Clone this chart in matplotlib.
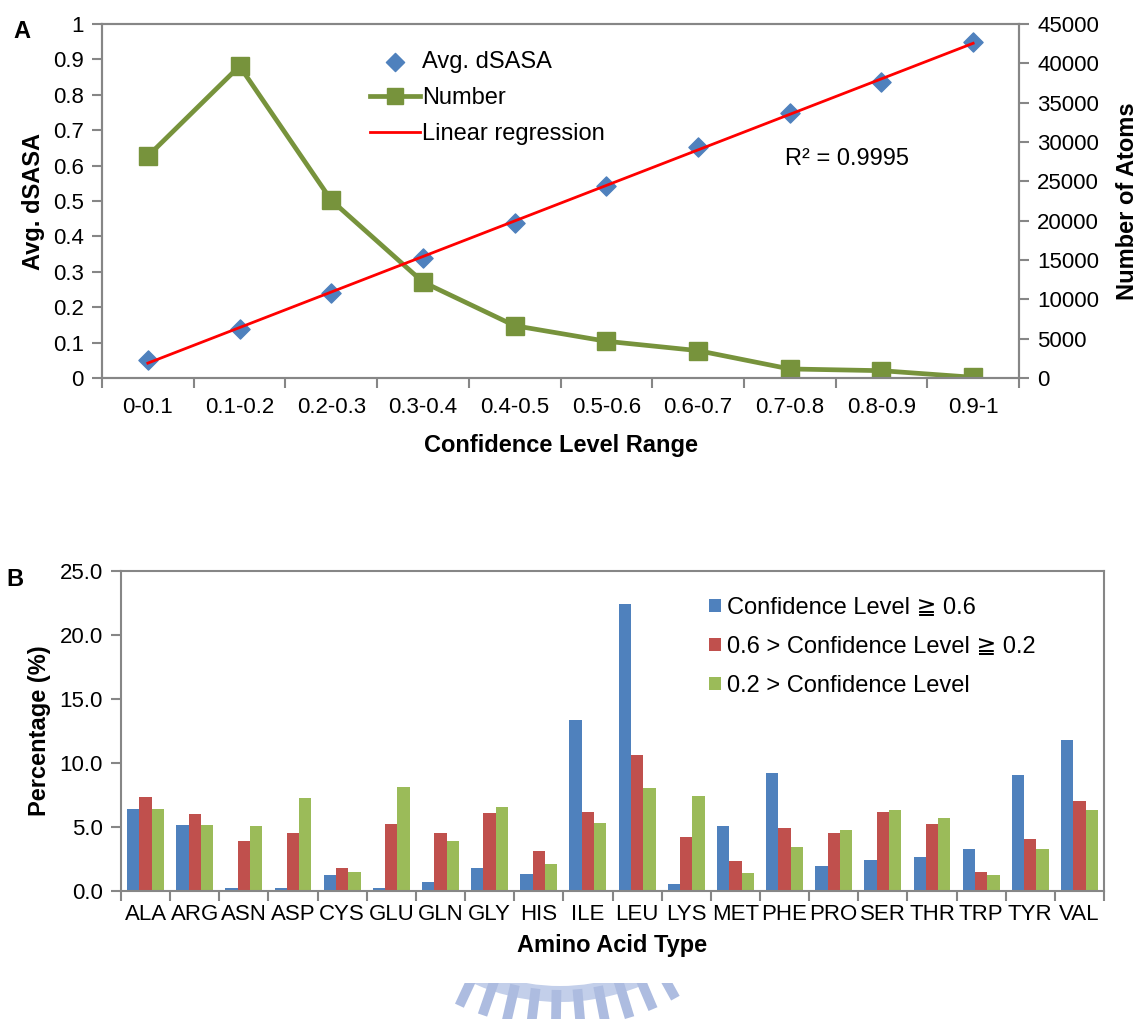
import matplotlib
matplotlib.use("Agg")
import matplotlib.pyplot as plt
import numpy as np
from matplotlib.patches import Rectangle, Wedge

plt.rcParams["font.family"] = ["Liberation Sans", "DejaVu Sans"]

AXIS_GRAY = "#868686"
BLUE = "#4F81BD"
RED = "#C0504D"
GREEN = "#9BBB59"
OLIVE = "#77933C"

# panel A data
conf_ranges = ["0-0.1", "0.1-0.2", "0.2-0.3", "0.3-0.4", "0.4-0.5",
               "0.5-0.6", "0.6-0.7", "0.7-0.8", "0.8-0.9", "0.9-1"]
avg_dsasa = [0.051, 0.139, 0.240, 0.339, 0.438, 0.542, 0.653, 0.750, 0.837, 0.949]
num_atoms = [28200, 39650, 22600, 12200, 6650, 4670, 3480, 1150, 930, 90]
r_squared = 0.9995

# panel B data
amino_acids = ["ALA", "ARG", "ASN", "ASP", "CYS", "GLU", "GLN", "GLY", "HIS", "ILE",
               "LEU", "LYS", "MET", "PHE", "PRO", "SER", "THR", "TRP", "TYR", "VAL"]
pct_high = [6.42, 5.17, 0.26, 0.26, 1.23, 0.26, 0.73, 1.83, 1.33, 13.39,
            22.40, 0.57, 5.09, 9.19, 1.98, 2.45, 2.66, 3.29, 9.09, 11.83]
pct_mid = [7.36, 6.00, 3.94, 4.52, 1.78, 5.22, 4.57, 6.06, 3.10, 6.14,
           10.65, 4.18, 2.32, 4.96, 4.57, 6.21, 5.22, 1.51, 4.07, 7.05]
pct_low = [6.37, 5.17, 5.04, 7.26, 1.46, 8.15, 3.94, 6.60, 2.11, 5.30,
           8.07, 7.42, 1.38, 3.47, 4.73, 6.32, 5.69, 1.23, 3.26, 6.32]
bar_labels = ["Confidence Level \u2267 0.6",
              "0.6 > Confidence Level \u2267 0.2",
              "0.2 > Confidence Level"]

W, H = 1139, 1019
TICK_FS = 16
LABEL_FS = 17
LEGEND_FS = 17


def style_spines(ax):
    for side in ("left", "right", "top", "bottom"):
        ax.spines[side].set_color(AXIS_GRAY)
        ax.spines[side].set_linewidth(1.5)


def category_ticks(ax, labels, pad):
    n = len(labels)
    ax.set_xlim(-0.5, n - 0.5)
    ax.set_xticks(np.arange(n))
    ax.set_xticklabels(labels)
    ax.set_xticks(np.arange(n + 1) - 0.5, minor=True)
    ax.tick_params(axis="x", which="major", length=0, pad=pad, labelsize=TICK_FS)
    ax.tick_params(axis="x", which="minor", length=7, width=1.5, color=AXIS_GRAY, direction="out")


fig = plt.figure(figsize=(W / 100, H / 100), dpi=100)

# ---- panel A ----
ax = fig.add_axes([102 / W, 1 - 378 / H, 917 / W, 354 / H])
ax2 = ax.twinx()
ax.set_zorder(ax2.get_zorder() + 1)
ax.patch.set_visible(False)

x = np.arange(len(conf_ranges))
ax2.plot(x, num_atoms, color=OLIVE, lw=3.4, marker="s", ms=12.5, label="Number")
ax.scatter(x, avg_dsasa, marker="D", s=95, color=BLUE, label="Avg. dSASA", zorder=3)
slope, icpt = np.polyfit(x, avg_dsasa, 1)
ax.plot(x, slope * x + icpt, color="#FF0000", lw=2, label="Linear regression", zorder=4)

ax.set_ylim(0, 1)
ax.set_yticks(np.arange(0, 1.01, 0.1))
ax.set_yticklabels(["0"] + [f"{v:.1f}" for v in np.arange(0.1, 0.95, 0.1)] + ["1"])
ax2.set_ylim(0, 45000)
ax2.set_yticks(np.arange(0, 45001, 5000))
category_ticks(ax, conf_ranges, pad=14)
for a in (ax, ax2):
    style_spines(a)
    a.tick_params(axis="y", length=7, width=1.5, color=AXIS_GRAY, labelsize=TICK_FS, pad=6)
ax.set_ylabel("Avg. dSASA", fontsize=LABEL_FS, fontweight="bold", labelpad=6)
ax2.set_ylabel("Number of Atoms", fontsize=LABEL_FS, fontweight="bold", labelpad=12)
ax.set_xlabel("Confidence Level Range", fontsize=LABEL_FS, fontweight="bold", labelpad=11)
ax.text(0.745, 0.62, f"R\u00b2 = {r_squared}", transform=ax.transAxes, fontsize=LEGEND_FS,
        va="center", ha="left")

h1, l1 = ax.get_legend_handles_labels()
h2, l2 = ax2.get_legend_handles_labels()
handles = [h1[0], h2[0], h1[1]]
labels = [l1[0], l2[0], l1[1]]
ax.legend(handles, labels, loc="upper left", bbox_to_anchor=(370 / W, 1 - 51 / H),
          bbox_transform=fig.transFigure, frameon=False, borderpad=0, borderaxespad=0,
          fontsize=LEGEND_FS, handlelength=2.1, handletextpad=0.1, labelspacing=0.6,
          markerscale=0.95)
fig.text(22 / W, 1 - 32 / H, "A", fontsize=17, fontweight="bold", va="center", ha="center")

# ---- panel B ----
bx = fig.add_axes([121 / W, 1 - 891 / H, 983 / W, 320 / H])
xb = np.arange(len(amino_acids))
w = 0.25
bx.bar(xb - w, pct_high, w, color=BLUE, label=bar_labels[0])
bx.bar(xb, pct_mid, w, color=RED, label=bar_labels[1])
bx.bar(xb + w, pct_low, w, color=GREEN, label=bar_labels[2])
bx.set_ylim(0, 25)
bx.set_yticks(np.arange(0, 25.1, 5))
bx.set_yticklabels([f"{v:.1f}" for v in np.arange(0, 25.1, 5)])
category_ticks(bx, amino_acids, pad=9)
style_spines(bx)
bx.tick_params(axis="y", length=7, width=1.5, color=AXIS_GRAY, labelsize=TICK_FS, pad=6)
bx.set_ylabel("Percentage (%)", fontsize=LABEL_FS, fontweight="bold", labelpad=6)
bx.set_xlabel("Amino Acid Type", fontsize=LABEL_FS, fontweight="bold", labelpad=7)
bx.legend(loc="upper left", bbox_to_anchor=(709 / W, 1 - 597 / H), bbox_transform=fig.transFigure,
          frameon=False, borderpad=0, borderaxespad=0, fontsize=LEGEND_FS,
          handlelength=0.5, handleheight=0.5, handletextpad=0.25, labelspacing=0.72)
fig.text(15 / W, 1 - 580 / H, "B", fontsize=17, fontweight="bold", va="center", ha="center")

# ---- faint watermark at the bottom ----
wm = fig.add_axes([0, 0, 1, 1], zorder=-5)
wm.set_xlim(0, W)
wm.set_ylim(H, 0)
wm.axis("off")
clip = Rectangle((0, 983), W, 40, transform=wm.transData)
cx, cy = 560, 790
band = Wedge((cx, cy), 212, 15, 165, width=16, color="#C3CFEA", lw=0)
wm.add_patch(band)
band.set_clip_path(clip)
for ang in np.arange(61, 120, 6.0):
    t = np.deg2rad(ang)
    r0, r1 = 200, 238
    ln, = wm.plot([cx + r0 * np.cos(t), cx + r1 * np.cos(t)],
                  [cy + r0 * np.sin(t), cy + r1 * np.sin(t)],
                  color="#ADBCE0", lw=7, solid_capstyle="butt")
    ln.set_clip_path(clip)

fig.savefig("out.png", dpi=100)
